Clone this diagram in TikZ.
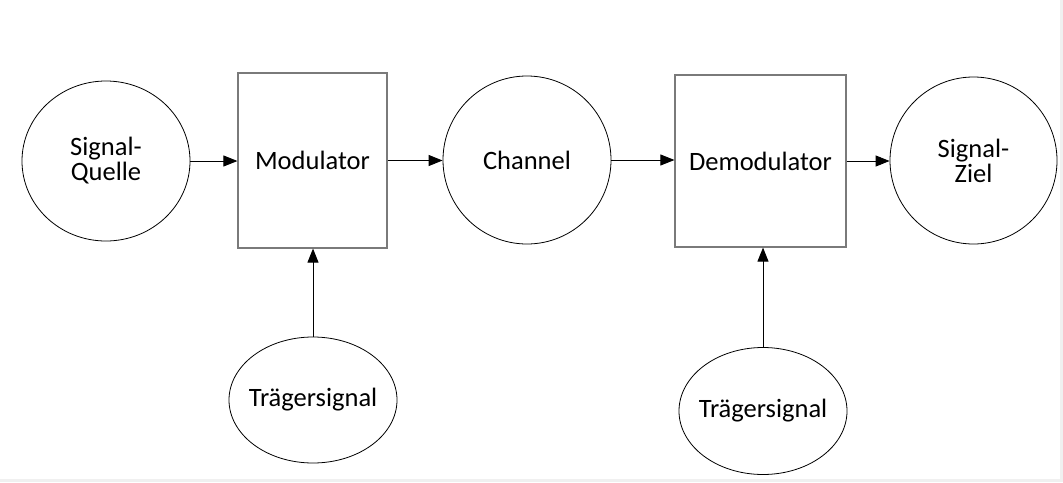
\documentclass[tikz,border=0pt]{standalone}
\usepackage{fontspec}
\setmainfont{Carlito}
\usetikzlibrary{arrows.meta,shapes.geometric}
\definecolor{boxgray}{HTML}{7A7A7A}
\definecolor{edgegray}{HTML}{F0F0F0}
\tikzset{
  round/.style={ellipse, draw=black, line width=0.8pt, inner sep=0pt, align=center,
    font=\fontsize{26.5}{25}\selectfont},
  block/.style={rectangle, draw=boxgray, line width=1.2pt, inner sep=0pt, align=center,
    font=\fontsize{26.5}{25}\selectfont},
  arr/.style={draw=black, line width=0.9pt, -{Triangle[length=14pt,width=11pt]}}
}
\begin{document}
\begin{tikzpicture}[x=1pt,y=-1pt]
\useasboundingbox (0,0) rectangle (1063,482);
\fill[white] (0,0) rectangle (1063,482);
\fill[edgegray] (1060,0) rectangle (1063,482);
\fill[edgegray] (0,479) rectangle (1063,482);

\node[round, minimum width=168pt, minimum height=160pt] (quelle) at (106,161) {Signal-\\Quelle};
\node[block, minimum width=149pt, minimum height=175pt] (mod) at (312.5,160.5) {Modulator};
\node[round, minimum width=168pt, minimum height=168pt] (chan) at (527,160) {Channel};
\node[block, minimum width=171pt, minimum height=172pt] (demod) at (760.5,161) {Demodulator};
\node[round, minimum width=167pt, minimum height=167pt] (ziel) at (973.5,160.5) {Signal-\\Ziel};
\node[round, minimum width=168pt, minimum height=126pt] (t1) at (313,400) {\makebox[0pt]{Trägersignal}};
\node[round, minimum width=168pt, minimum height=127pt] (t2) at (763,411) {\makebox[0pt]{Trägersignal}};

\draw[arr] (quelle.east) -- (quelle.east -| mod.west);
\draw[arr] (mod.east) -- (mod.east -| chan.west);
\draw[arr] (chan.east) -- (chan.east -| demod.west);
\draw[arr] (demod.east) -- (demod.east -| ziel.west);
\draw[arr] (t1.north) -- (t1.north |- mod.south);
\draw[arr] (t2.north) -- (t2.north |- demod.south);
\end{tikzpicture}
\end{document}
